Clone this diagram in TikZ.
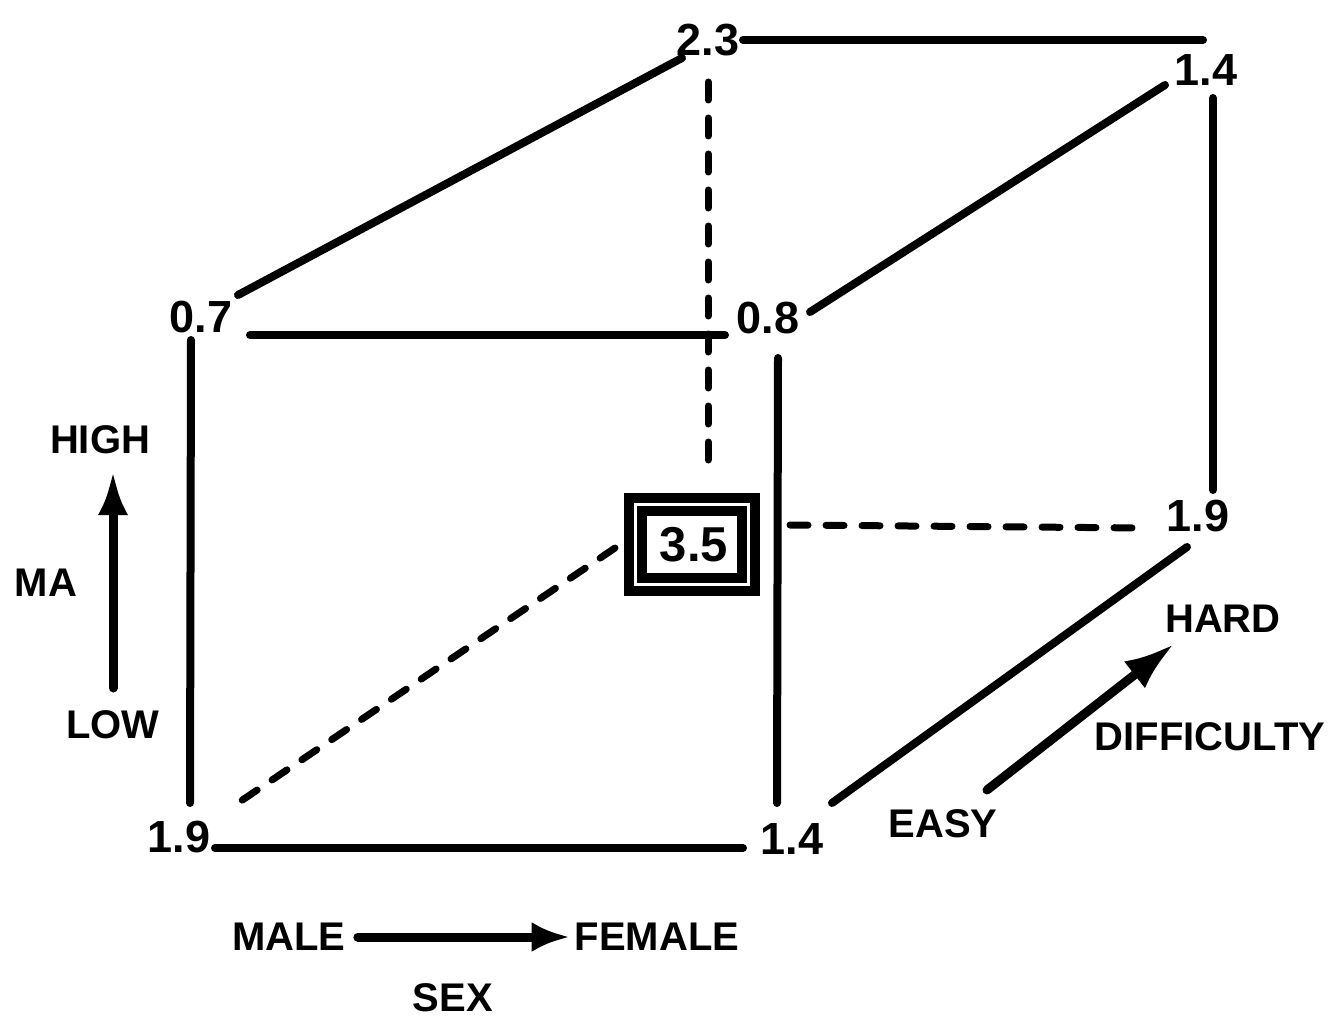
\documentclass[tikz,border=0pt]{standalone}
\usepackage{fontspec}
\setmainfont{Liberation Sans}
\usetikzlibrary{arrows.meta}
\begin{document}
\begin{tikzpicture}[x=1pt,y=-1pt,
  num/.style={font=\fontsize{45}{50}\selectfont\bfseries, inner sep=0pt},
  lab/.style={font=\fontsize{40}{46}\selectfont\bfseries, inner sep=0pt},
  edge/.style={line width=8pt, line cap=round},
  hidden/.style={line width=7pt, line cap=round, dash pattern=on 18pt off 18pt},
  axis/.style={line width=9pt, line cap=round},
  framebox/.style={draw, line width=10pt, double=white, double distance=3pt,
    minimum width=113pt, minimum height=80pt, inner sep=0pt, outer sep=0pt,
    font=\fontsize{49}{54}\selectfont\bfseries}]
\useasboundingbox (0,0) rectangle (1334,1022);

% value nodes
\node[num] (n23)  at (708,40)  {2.3};
\node[num] (n14t) at (1206,70) {1.4};
\node[num] (n07)  at (201,317) {0.7};
\node[num] (n08)  at (768,318) {0.8};
\node[num] (n19r) at (1198,516) {1.9};
\node[num] (n19l) at (179,837) {1.9};
\node[num] (n14b) at (792,839) {1.4};
\node[framebox] (box) at (692,544.5) {\hspace*{4pt}3.5};

% solid cube edges
\draw[edge] ([shift={(35,0)}]n23.center) -- ([shift={(-3,-30)}]n14t.center);
\draw[edge] ([shift={(-26,18)}]n23.center) -- ([shift={(37,-22)}]n07.center);
\draw[edge] ([shift={(-41,15)}]n14t.center) -- ([shift={(42,-6)}]n08.center);
\draw[edge] ([shift={(7,28)}]n14t.center) -- ([shift={(15,-26)}]n19r.center);
\draw[edge] ([shift={(49,18)}]n07.center) -- ([shift={(-43,17)}]n08.center);
\draw[edge] ([shift={(-10,23)}]n07.center) -- ([shift={(11,-34)}]n19l.center);
\draw[edge] ([shift={(10,40)}]n08.center) -- ([shift={(-15,-36)}]n14b.center);
\draw[edge] ([shift={(36,11)}]n19l.center) -- ([shift={(-49,9)}]n14b.center);
\draw[edge] ([shift={(40,-36)}]n14b.center) -- ([shift={(-11,31)}]n19r.center);

% hidden (dashed) edges
\draw[hidden] ([shift={(0,42)}]n23.center) -- ([shift={(16,-68)}]box.center);
\draw[hidden] ([shift={(98,-19.5)}]box.center) -- ([shift={(-53,12)}]n19r.center);
\draw[hidden] ([shift={(-77,3.5)}]box.center) -- ([shift={(59,-34)}]n19l.center);

% MA axis
\node[lab] (high) at (100,440) {HIGH};
\node[lab] (ma)   at (46,583)  {MA};
\node[lab] (low)  at (113,725) {LOW};
\draw[axis, -{Latex[length=44pt,width=30pt]}] ([shift={(0,-37)}]low.center) -- ([shift={(13,31)}]high.center);

% SEX axis
\node[lab] (male)   at (289,937) {MALE};
\node[lab] (female) at (657,937) {FEMALE};
\node[lab] (sex)    at (453,998) {SEX};
\draw[axis, -{Latex[length=38pt,width=30pt]}] ([xshift=12]male.east) -- ([xshift=-5]female.west);

% difficulty axis
\node[lab] (hard) at (1223,619) {HARD};
\node[lab] (diff) at (1210,737) {DIFFICULTY};
\node[lab] (easy) at (943,824)  {EASY};
\draw[axis, -{Latex[length=50pt,width=34pt]}] ([shift={(44,-34)}]easy.center) -- ([shift={(-49,25)}]hard.center);
\end{tikzpicture}
\end{document}
